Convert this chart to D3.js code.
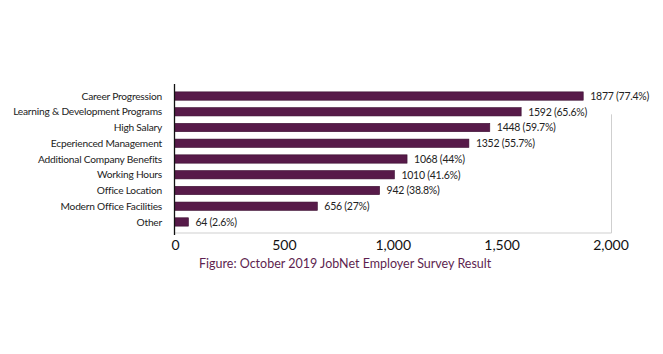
<!DOCTYPE html>
<html><head><meta charset="utf-8">
<script src="https://cdn.jsdelivr.net/npm/d3@7"></script>
<style>body{margin:0;background:#fff}svg{display:block}</style>
</head><body><svg id="c" width="663" height="354"></svg>
<script>
const categories = ["Career Progression","Learning & Development Programs","High Salary","Ecperienced Management","Additional Company Benefits","Working Hours","Office Location","Modern Office Facilities","Other"];
const values = [1877,1592,1448,1352,1068,1010,942,656,64];
const percents = ["77.4%","65.6%","59.7%","55.7%","44%","41.6%","38.8%","27%","2.6%"];
const ticks = [0,500,1000,1500,2000];
const caption = "Figure: October 2019 JobNet Employer Survey Result";

const svg = d3.select("#c");
const font = "Lato, 'Open Sans', sans-serif";
const x = d3.scaleLinear().domain([0,2000]).range([174.5,610]);
const y = d3.scaleBand().domain(categories).range([84,234]).paddingInner(0.47).paddingOuter(0.5);
const purple = "#571a49";

// gray frame (bottom & right)
svg.append("line").attr("x1",x(0)).attr("x2",x(2000)+1.5).attr("y1",233).attr("y2",233).attr("stroke","#cfcfcf").attr("stroke-width",1);
svg.append("line").attr("x1",x(2000)+1.5).attr("x2",x(2000)+1.5).attr("y1",y(categories[2])-9).attr("y2",233).attr("stroke","#cfcfcf").attr("stroke-width",1);

svg.selectAll("rect.bar").data(values).join("rect").attr("class","bar")
  .attr("x",x(0)).attr("y",(d,i)=>y(categories[i]))
  .attr("width",d=>x(d)-x(0)).attr("height",y.bandwidth())
  .attr("fill",purple).attr("stroke","#3a0d30").attr("stroke-width",0.6);

svg.selectAll("text.val").data(values).join("text").attr("class","val")
  .attr("x",d=>x(d)+7).attr("y",(d,i)=>y(categories[i])+y.bandwidth()/2)
  .attr("dy","0.36em").attr("font-family",font).attr("font-size",10.5).attr("letter-spacing",-0.25).attr("fill","#222")
  .text((d,i)=>`${d} (${percents[i]})`);

svg.selectAll("text.cat").data(categories).join("text").attr("class","cat")
  .attr("x",162).attr("y",d=>y(d)+y.bandwidth()/2).attr("dy","0.36em")
  .attr("text-anchor","end").attr("font-family",font).attr("font-size",10.2).attr("letter-spacing",-0.22).attr("fill","#222")
  .text(d=>d);

// left axis line
svg.append("line").attr("x1",x(0)).attr("x2",x(0)).attr("y1",84).attr("y2",235).attr("stroke","#111").attr("stroke-width",1.3);

const fmt = d3.format(",");
svg.selectAll("text.tick").data(ticks).join("text").attr("class","tick")
  .attr("x",d=>x(d)+1).attr("y",250).attr("text-anchor","middle")
  .attr("font-family",font).attr("font-size",14).attr("fill","#111")
  .text(d=>fmt(d));

svg.append("text").attr("x",199).attr("y",268).attr("font-family",font).attr("font-size",12.5)
  .attr("fill","#5e1f50").text(caption);
</script></body></html>
